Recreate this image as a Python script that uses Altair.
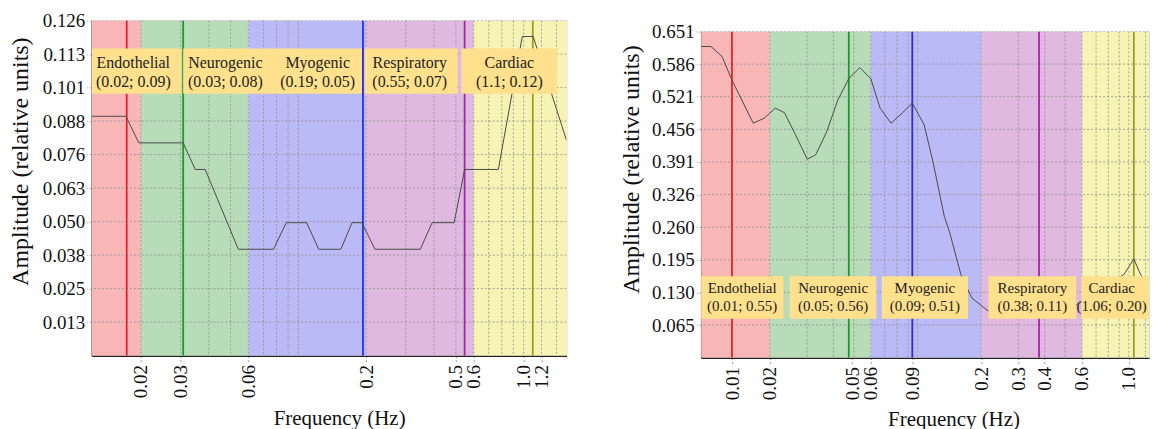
import altair as alt
import pandas as pd

FONT = "Liberation Serif"

# ---------------- shared categories / styles ----------------
band_names = ["Endothelial", "Neurogenic", "Myogenic", "Respiratory", "Cardiac"]
band_lo = [0.009, 0.02, 0.06, 0.2, 0.6]
band_hi = [0.02, 0.06, 0.2, 0.6, 2.0]
band_fill = ["#f8b6b6", "#b8dcb8", "#babaf6", "#dfb9df", "#f6f3b4"]
peak_color = ["#e5232b", "#1f9a2a", "#2a2ae0", "#a326a8", "#9c9c25"]
box_fill = "#ffe08c"
grid_freq = [0.02, 0.03, 0.04, 0.05, 0.06, 0.07, 0.08, 0.09, 0.1,
             0.2, 0.3, 0.4, 0.5, 0.6, 0.7, 0.8, 0.9, 1.0, 1.2, 1.4]

# ---------------- left panel ----------------
L_freq = [0.0121, 0.01715, 0.01957, 0.0308, 0.03484, 0.03856, 0.05414, 0.07746,
          0.08838, 0.1088, 0.1231, 0.1543, 0.1731, 0.1914, 0.2187, 0.3478,
          0.3924, 0.4914, 0.547, 0.772, 0.986, 1.102, 1.549]
L_amp = [0.090, 0.090, 0.080, 0.080, 0.070, 0.070, 0.040, 0.040,
         0.050, 0.050, 0.040, 0.040, 0.050, 0.050, 0.040, 0.040,
         0.050, 0.050, 0.070, 0.070, 0.120, 0.120, 0.081]
L_peak = [0.01729, 0.0308, 0.1935, 0.547, 1.098]
L_peak_text = ["(0.02; 0.09)", "(0.03; 0.08)", "(0.19; 0.05)", "(0.55; 0.07)", "(1.1; 0.12)"]
L_box_lo = [0.0121, 0.0308, 0.0726, 0.1966, 0.5289]
L_box_hi = [0.03018, 0.0726, 0.1914, 0.5094, 1.41]
L_text_x = [0.0185, 0.0474, 0.1218, 0.3121, 0.864]
L_box_y = [0.0985, 0.1155]
L_text_y = 0.1099
L_xdom = [0.0121, 1.55]
L_ymax = 0.126
L_yticks = [0.0126, 0.0252, 0.0378, 0.0504, 0.063, 0.0756, 0.0882, 0.1008, 0.1134, 0.126]
L_ylabels = ["0.013", "0.025", "0.038", "0.050", "0.063", "0.076", "0.088", "0.101", "0.113", "0.126"]
L_xticks = [0.02, 0.03, 0.06, 0.2, 0.5, 0.6, 1.0, 1.2]
L_xlabels = ["0.02", "0.03", "0.06", "0.2", "0.5", "0.6", "1.0", "1.2"]

# ---------------- right panel ----------------
R_freq = [0.00947, 0.01054, 0.01189, 0.01324, 0.0167, 0.01884, 0.02122, 0.02346,
          0.02646, 0.03008, 0.0330, 0.03718, 0.04194, 0.0473, 0.05334, 0.0601,
          0.06652, 0.07494, 0.08456, 0.09452, 0.1075, 0.1188, 0.1339, 0.1422,
          0.1604, 0.1808, 0.2162, 0.28, 0.38, 0.47, 0.566, 0.60, 0.75, 0.948,
          1.056, 1.136, 1.40]
R_amp = [0.621, 0.621, 0.601, 0.554, 0.468, 0.478, 0.498, 0.489,
         0.445, 0.396, 0.405, 0.451, 0.514, 0.557, 0.579, 0.557,
         0.498, 0.468, 0.488, 0.508, 0.465, 0.388, 0.282, 0.249,
         0.166, 0.119, 0.093, 0.100, 0.110, 0.105, 0.106, 0.112, 0.140, 0.166,
         0.197, 0.166, 0.120]
R_peak = [0.01324, 0.0473, 0.0945, 0.376, 1.056]
R_peak_text = ["(0.01; 0.55)", "(0.05; 0.56)", "(0.09; 0.51)", "(0.38; 0.11)", "(1.06; 0.20)"]
R_box_lo = [0.00947, 0.02486, 0.0678, 0.2168, 0.596]
R_box_hi = [0.0232, 0.0639, 0.1734, 0.564, 1.432]
R_text_x = [0.0148, 0.0399, 0.1084, 0.3497, 0.83]
R_box_y = [0.0776, 0.1623]
R_text_y = 0.138
R_xdom = [0.00947, 1.246]
R_ymax = 0.651
R_yticks = [0.0651, 0.1302, 0.1953, 0.2604, 0.3255, 0.3906, 0.4557, 0.5208, 0.5859, 0.651]
R_ylabels = ["0.065", "0.130", "0.195", "0.260", "0.326", "0.391", "0.456", "0.521", "0.586", "0.651"]
R_xticks = [0.0133, 0.02, 0.049, 0.06, 0.0945, 0.2, 0.3, 0.4, 0.6, 1.0]
R_xlabels = ["0.01", "0.02", "0.05", "0.06", "0.09", "0.2", "0.3", "0.4", "0.6", "1.0"]


def lookup_expr(vals, labs):
    return "[" + ",".join("'%s'" % l for l in labs) + "][indexof([" + \
        ",".join(repr(v) for v in vals) + "], datum.value)]"


def panel(freq, amp, peak, peak_text, box_lo, box_hi, text_x, box_y, text_y, xdom, ymax,
          yticks, ylabels, xticks, xlabels, w, h, ytitle_x, ytitle_y, xtitle_x, xtitle_y,
          font_size, line_h):
    xsc = alt.Scale(type="log", domain=xdom, nice=False)
    ysc = alt.Scale(domain=[0, ymax], nice=False, zero=True)
    xax = alt.Axis(values=xticks, labelExpr=lookup_expr(xticks, xlabels),
                   title="Frequency (Hz)", grid=False, labelAngle=-90,
                   labelAlign="right", labelBaseline="middle", labelPadding=3,
                   labelOverlap=False, labelFlush=False, labelFont=FONT, labelFontSize=19,
                   labelColor="#111", ticks=True, tickSize=6, tickColor="#999",
                   tickDash=[2, 2], tickWidth=1, domainColor="#222", domainWidth=1.5,
                   titleFont=FONT, titleFontSize=21, titleFontWeight="normal",
                   titleColor="#111", titleX=xtitle_x, titleY=xtitle_y,
                   titleAlign="center", titleBaseline="middle")
    yax = alt.Axis(values=yticks, labelExpr=lookup_expr(yticks, ylabels),
                   title="Amplitude (relative units)", grid=False,
                   labelPadding=2, labelOverlap=False, labelFlush=False,
                   labelFont=FONT, labelFontSize=19, labelColor="#111",
                   ticks=True, tickSize=5, tickColor="#999", tickDash=[2, 2],
                   tickWidth=1, domainColor="#222", domainWidth=1.5,
                   titleFont=FONT, titleFontSize=24, titleFontWeight="normal",
                   titleColor="#111", titleX=ytitle_x, titleY=ytitle_y,
                   titleAlign="center", titleBaseline="middle", titleAngle=270)

    def X(field):
        return alt.X(field, type="quantitative", scale=xsc, axis=xax)

    def Y(field):
        return alt.Y(field, type="quantitative", scale=ysc, axis=yax)

    bands = pd.DataFrame({"name": band_names, "lo": band_lo, "hi": band_hi})
    peaks = pd.DataFrame({"name": band_names, "f": peak})
    line = pd.DataFrame({"f": freq, "a": amp})
    gx = pd.DataFrame({"f": grid_freq})
    gy = pd.DataFrame({"a": yticks})
    boxes = pd.DataFrame({
        "name": band_names, "lo": box_lo, "hi": box_hi,
        "y0": [box_y[0]] * 5, "y1": [box_y[1]] * 5,
        "xc": text_x, "yc": [text_y] * 5,
        "label": [n + "\n" + t for n, t in zip(band_names, peak_text)],
    })

    cband = alt.Color("name:N", scale=alt.Scale(domain=band_names, range=band_fill), legend=None)
    cpeak = alt.Color("name:N", scale=alt.Scale(domain=band_names, range=peak_color), legend=None)

    l_bands = alt.Chart(bands).mark_rect(clip=True, opacity=1).encode(
        x=X("lo"), x2="hi", color=cband)
    l_gx = alt.Chart(gx).mark_rule(clip=True, color="#8f8f8f", strokeDash=[2, 2],
                                   strokeWidth=1, opacity=0.8).encode(x=X("f"))
    l_gy = alt.Chart(gy).mark_rule(clip=True, color="#8f8f8f", strokeDash=[2, 2],
                                   strokeWidth=1, opacity=0.8).encode(y=Y("a"))
    l_peaks = alt.Chart(peaks).mark_rule(clip=True, strokeWidth=1.8).encode(
        x=X("f"), color=cpeak)
    l_line = alt.Chart(line).mark_line(clip=True, color="#4a4a4a", strokeWidth=1).encode(
        x=X("f"), y=Y("a"))
    l_box = alt.Chart(boxes).mark_rect(clip=True, color=box_fill, opacity=1).encode(
        x=X("lo"), x2="hi", y=Y("y0"), y2="y1")
    l_text = alt.Chart(boxes).mark_text(clip=True, font=FONT, fontSize=font_size,
                                        lineBreak="\n", lineHeight=line_h, align="center",
                                        baseline="middle", color="#222").encode(
        x=X("xc"), y=Y("yc"), text="label:N")
    return alt.layer(l_bands, l_gx, l_gy, l_peaks, l_line, l_box, l_text).resolve_scale(
        color="independent").properties(width=w, height=h)


left = panel(L_freq, L_amp, L_peak, L_peak_text, L_box_lo, L_box_hi, L_text_x, L_box_y,
             L_text_y, L_xdom, L_ymax, L_yticks, L_ylabels, L_xticks, L_xlabels, 476, 336,
             -71, 141, 248, 63, 16, 19)
right = panel(R_freq, R_amp, R_peak, R_peak_text, R_box_lo, R_box_hi, R_text_x, R_box_y,
              R_text_y, R_xdom, R_ymax, R_yticks, R_ylabels, R_xticks, R_xlabels, 449, 327,
              -70, 138, 253, 62, 15, 17.5)

# invisible spacer that drops the right panel a little lower than the left one
spacer = alt.Chart(pd.DataFrame({"v": [0]})).mark_rect(opacity=0).encode(
    x=alt.value(0), x2=alt.value(1), y=alt.value(0), y2=alt.value(1)
).properties(width=449, height=1, view=alt.ViewBackground(strokeOpacity=0))

chart = alt.hconcat(left, alt.vconcat(spacer, right, spacing=0), spacing=51).properties(
    padding={"left": 0, "top": 2, "right": 0, "bottom": 0}
).configure_view(stroke="#3a3a3a", strokeWidth=1.5).configure(background="white")

chart.save("out.html", embed_options={"renderer": "svg", "actions": False})
